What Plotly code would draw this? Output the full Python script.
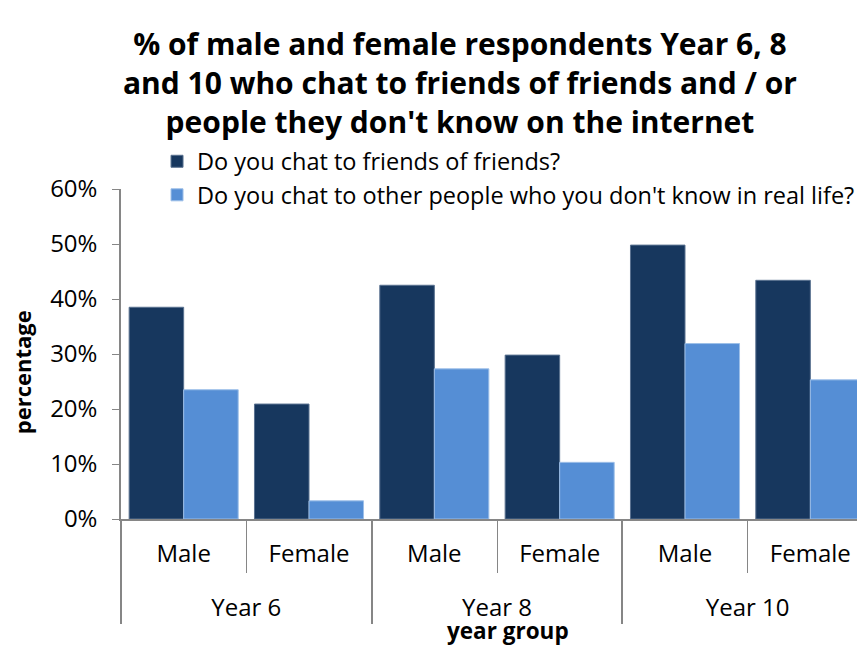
import plotly.graph_objects as go

years = ["Year 6", "Year 6", "Year 8", "Year 8", "Year 10", "Year 10"]
genders = ["Male", "Female", "Male", "Female", "Male", "Female"]
friends_of_friends = [0.385, 0.209, 0.425, 0.298, 0.498, 0.434]
strangers = [0.235, 0.033, 0.273, 0.103, 0.319, 0.253]
series_names = ["Do you chat to friends of friends?",
                "Do you chat to other people who you don't know in real life?"]
title_text = ("% of male and female respondents Year 6, 8<br>"
              "and 10 who chat to friends of friends and / or<br>"
              "people they don't know on the internet")
x_title = "year group"
y_title = "percentage"
y_ticks = [0, 0.1, 0.2, 0.3, 0.4, 0.5, 0.6]

FONT = "Open Sans"
AX = "#868686"
gender_labels = [g + "<br> " for g in genders]

fig = go.Figure()
fig.add_trace(go.Bar(x=[years, gender_labels], y=friends_of_friends, name=series_names[0],
                     marker=dict(color="#17375E", line=dict(color="#5a7290", width=1)),
                     legendgroup="a"))
fig.add_trace(go.Bar(x=[years, gender_labels], y=strangers, name=series_names[1],
                     marker=dict(color="#558ED5", line=dict(color="#9dbfe8", width=1)),
                     legendgroup="b"))

fig.add_annotation(text="<b>" + title_text + "</b>", xref="paper", yref="paper",
                   x=0.4508, y=1.508, xanchor="center", yanchor="top", showarrow=False,
                   align="center", font=dict(family=FONT, size=30, color="#000000"))
fig.add_annotation(text="<b>" + y_title + "</b>", xref="paper", yref="paper",
                   x=-0.1316, y=0.445, xanchor="center", yanchor="middle", showarrow=False,
                   textangle=-90, font=dict(family=FONT, size=22, color="#000000"))
fig.add_annotation(text="<b>" + x_title + "</b>", xref="paper", yref="paper",
                   x=0.514, y=-0.337, xanchor="center", yanchor="middle", showarrow=False,
                   font=dict(family=FONT, size=22.5, color="#000000"))

fig.update_layout(
    width=865, height=645,
    paper_bgcolor="white", plot_bgcolor="white",
    margin=dict(l=113, r=0, t=181, b=134, autoexpand=False),
    barmode="group", bargap=0.13, bargroupgap=0,
    font=dict(family=FONT, size=22, color="#000000"),
    legend=dict(x=0.0479, xanchor="left", y=1.15, yanchor="top",
                font=dict(family=FONT, size=23.5), bgcolor="rgba(0,0,0,0)",
                tracegroupgap=2, traceorder="normal"),
    showlegend=True,
)
fig.update_yaxes(range=[0, 0.6], tickvals=y_ticks, tickformat=".0%",
                 showgrid=False, zeroline=False, showline=True, linecolor=AX,
                 linewidth=1.5, ticks="outside", ticklen=7, tickcolor=AX,
                 ticklabelstandoff=10,
                 tickfont=dict(family=FONT, size=24))
fig.update_xaxes(type="multicategory", range=[-0.5, 5.5],
                 showgrid=False, showline=True, linecolor=AX, linewidth=1.5,
                 ticks="outside", ticklen=52, tickcolor=AX, ticklabelstandoff=12,
                 showdividers=True, dividercolor=AX, dividerwidth=1.5,
                 tickfont=dict(family=FONT, size=24))

fig.write_html("out.html")
